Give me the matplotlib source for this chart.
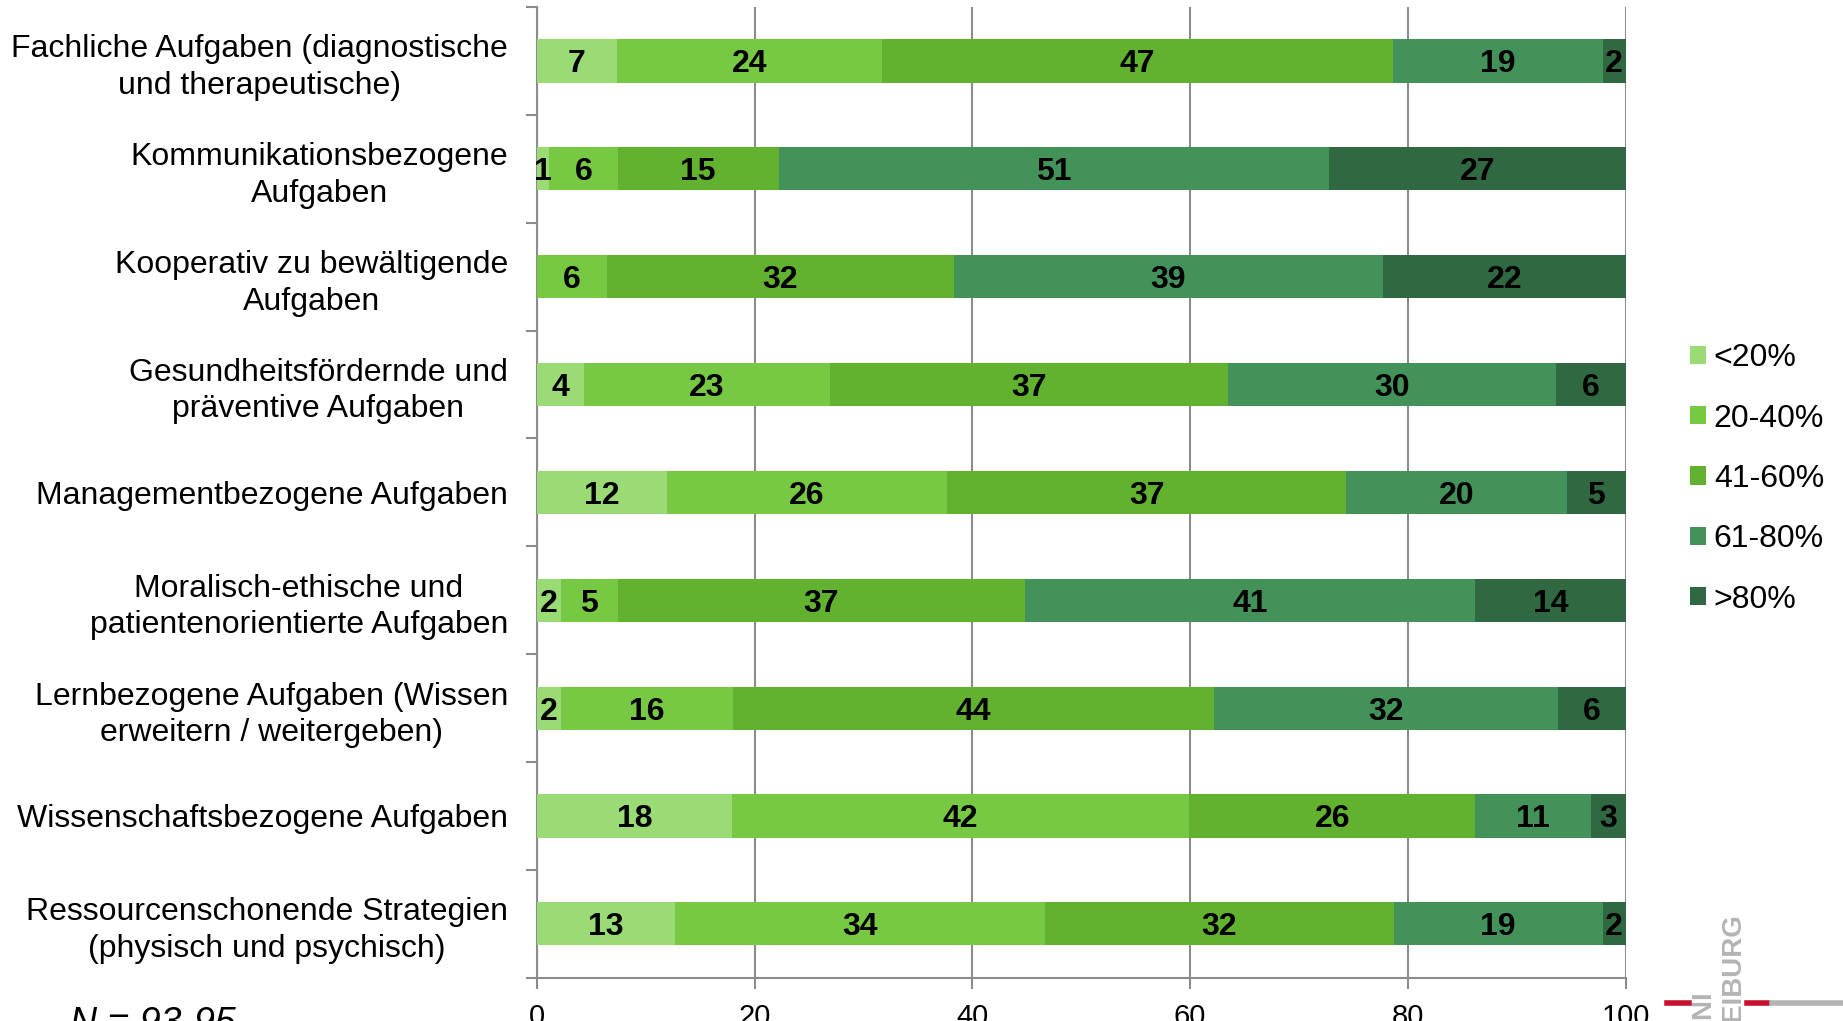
import numpy as np
from matplotlib import pyplot as plt
from matplotlib.lines import Line2D

plt.rcParams['font.family'] = ['Liberation Sans', 'DejaVu Sans']

# Kategorien (von oben nach unten)
categories = [
    'Fachliche Aufgaben (diagnostische\nund therapeutische)',
    'Kommunikationsbezogene\nAufgaben',
    'Kooperativ zu bewältigende\nAufgaben',
    'Gesundheitsfördernde und\npräventive Aufgaben',
    'Managementbezogene Aufgaben',
    'Moralisch-ethische und\npatientenorientierte Aufgaben',
    'Lernbezogene Aufgaben (Wissen\nerweitern / weitergeben)',
    'Wissenschaftsbezogene Aufgaben',
    'Ressourcenschonende Strategien\n(physisch und psychisch)',
]

series_names = ['<20%', '20-40%', '41-60%', '61-80%', '>80%']

# Anteile in Prozent je Kategorie
lt20 = [7.3, 1.1, 0.0, 4.3, 11.9, 2.2, 2.2, 17.9, 12.7]
p20_40 = [24.4, 6.3, 6.4, 22.6, 25.8, 5.2, 15.8, 42.0, 34.0]
p41_60 = [46.9, 14.8, 31.9, 36.6, 36.6, 37.4, 44.2, 26.3, 32.0]
p61_80 = [19.3, 50.6, 39.4, 30.1, 20.3, 41.4, 31.6, 10.6, 19.2]
gt80 = [2.1, 27.2, 22.3, 6.4, 5.4, 13.8, 6.2, 3.2, 2.1]

colors = ['#9bdb76', '#77c842', '#62b12f', '#43925a', '#2f6841']

xticks = [0, 20, 40, 60, 80, 100]


def draw_chart():
    fig = plt.figure(figsize=(18.43, 10.21), dpi=100)
    ax = fig.add_axes([0.2914, 0.0424, 0.882 - 0.2914, 0.9931 - 0.0424])

    data = np.array([lt20, p20_40, p41_60, p61_80, gt80])
    y = np.arange(len(categories))
    left = np.zeros(len(categories))
    for vals, name, col in zip(data, series_names, colors):
        bars = ax.barh(y, vals, left=left, height=0.4, color=col, label=name, zorder=3)
        for b, v in zip(bars, vals):
            if v > 0:
                ax.text(b.get_x() + b.get_width() / 2, b.get_y() + b.get_height() / 2,
                        f'{v:.0f}', ha='center', va='center_baseline', fontsize=23,
                        fontweight='bold', color='black', zorder=4)
        left += vals

    ax.set_xlim(0, 100)
    ax.set_ylim(len(categories) - 0.5, -0.5)

    ax.set_xticks(xticks)
    ax.set_xticklabels([str(t) for t in xticks], fontsize=21)
    ax.tick_params(axis='x', length=8, width=1.5, color='#8c8c8c', pad=10)

    ax.set_yticks(y)
    ax.set_yticklabels(categories, fontsize=23, multialignment='center', linespacing=1.28)
    ax.tick_params(axis='y', which='major', length=0, pad=21)
    ax.set_yticks(np.arange(-0.5, len(categories) + 0.5, 1), minor=True)
    ax.tick_params(axis='y', which='minor', length=8, width=1.5, color='#8c8c8c')

    ax.grid(axis='x', color='#8c8c8c', linewidth=1.5, zorder=0)
    for s in ['top', 'right']:
        ax.spines[s].set_visible(False)
    for s in ['left', 'bottom']:
        ax.spines[s].set_color('#8c8c8c')
        ax.spines[s].set_linewidth(1.5)

    ax.legend(loc='center left', bbox_to_anchor=(0.910, 0.531), bbox_transform=fig.transFigure,
              frameon=False, fontsize=23, handlelength=0.5, handleheight=0.5,
              handletextpad=0.25, labelspacing=0.95, borderaxespad=0)

    # Stichprobengröße (unten abgeschnitten)
    fig.text(70 / 1843, 1 - 1006 / 1021, 'N = 93-95', fontsize=27, style='italic',
             ha='left', va='top')

    # Logo-Reste unten rechts
    ly = 1 - 1003 / 1021
    fig.add_artist(Line2D([1667 / 1843, 1689 / 1843], [ly, ly], color='#c8102e', linewidth=4))
    fig.add_artist(Line2D([1747 / 1843, 1768 / 1843], [ly, ly], color='#c8102e', linewidth=4))
    fig.add_artist(Line2D([1772 / 1843, 1.0], [ly, ly], color='#b4b4b4', linewidth=4))
    fig.text(1703 / 1843, 1 - 990 / 1021, 'UNI', rotation=90, fontsize=20, fontweight='bold',
             color='#b4b4b4', ha='center', va='top')
    fig.text(1733 / 1843, 1 - 913 / 1021, 'FREIBURG', rotation=90, fontsize=20,
             fontweight='bold', color='#b4b4b4', ha='center', va='top')

    fig.savefig('out.png', dpi=100)


if __name__ == '__main__':
    draw_chart()
